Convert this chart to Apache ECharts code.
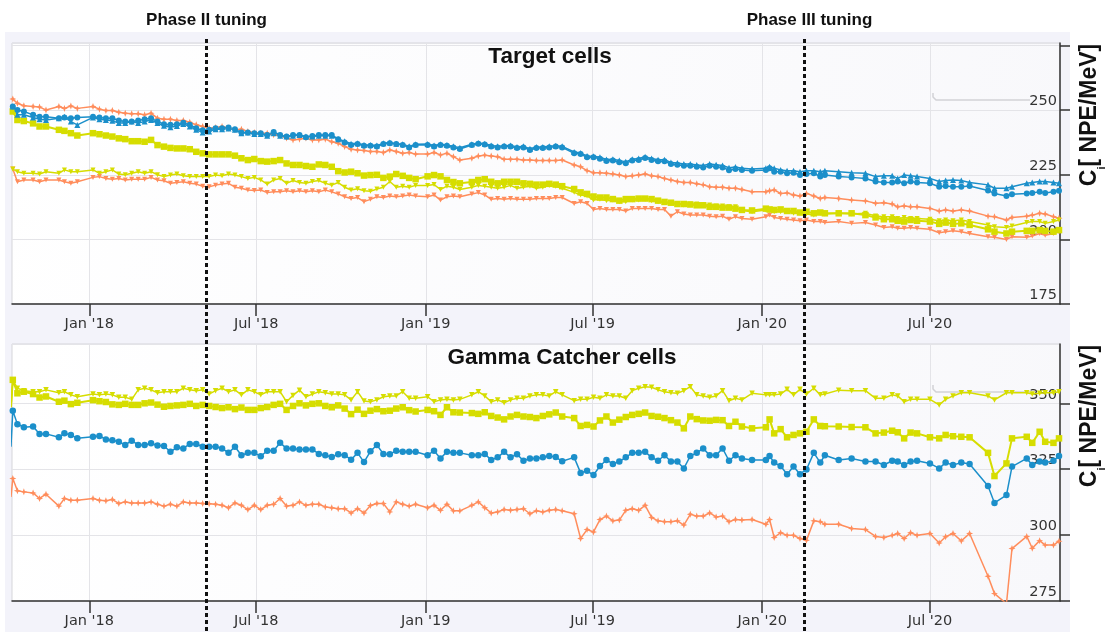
<!DOCTYPE html>
<html>
<head>
<meta charset="utf-8">
<script src="https://cdn.jsdelivr.net/npm/echarts@6/dist/echarts.min.js"></script>
<style>
html,body{margin:0;padding:0;background:#ffffff;}
#chart{width:1107px;height:632px;}
</style>
</head>
<body>
<div id="chart"></div>
<script>
// Sampling dates shared by both panels (first entry lies just before the visible window)
const dates = [
'2017-10-08','2017-10-10','2017-10-15','2017-10-22','2017-11-01','2017-11-08','2017-11-15','2017-11-29','2017-12-05','2017-12-12','2017-12-19',
'2018-01-05','2018-01-12','2018-01-19','2018-01-26','2018-02-02','2018-02-09','2018-02-16','2018-02-23','2018-03-02','2018-03-09','2018-03-16','2018-03-23','2018-03-30','2018-04-06','2018-04-13','2018-04-20','2018-04-27','2018-05-04','2018-05-11','2018-05-18','2018-05-25','2018-06-01','2018-06-08','2018-06-15','2018-06-22','2018-06-29','2018-07-06','2018-07-13','2018-07-20','2018-07-27','2018-08-03','2018-08-10','2018-08-17','2018-08-24','2018-08-31','2018-09-07','2018-09-14','2018-09-21','2018-09-28','2018-10-05','2018-10-12','2018-10-19','2018-10-26','2018-11-02','2018-11-09','2018-11-16','2018-11-23','2018-11-30','2018-12-07','2018-12-14','2018-12-21',
'2019-01-03','2019-01-10','2019-01-17','2019-01-24','2019-01-31','2019-02-07','2019-02-20','2019-02-27','2019-03-06','2019-03-13','2019-03-20','2019-03-27','2019-04-03','2019-04-10','2019-04-17','2019-04-24','2019-05-01','2019-05-08','2019-05-15','2019-05-22','2019-05-29','2019-06-11','2019-06-18','2019-06-25','2019-07-02','2019-07-09','2019-07-16','2019-07-23','2019-07-30','2019-08-06','2019-08-13','2019-08-20','2019-08-27','2019-09-03','2019-09-10','2019-09-17','2019-09-24','2019-10-01','2019-10-08','2019-10-15','2019-10-22','2019-10-29','2019-11-05','2019-11-12','2019-11-19','2019-11-26','2019-12-03','2019-12-10','2019-12-21',
'2020-01-05','2020-01-09','2020-01-14','2020-01-21','2020-01-28','2020-02-04','2020-02-11','2020-02-18','2020-02-26','2020-03-04','2020-03-09','2020-03-24','2020-04-07','2020-04-22','2020-05-03','2020-05-12','2020-05-21','2020-05-27','2020-06-03','2020-06-10','2020-06-17','2020-07-01','2020-07-11','2020-07-18','2020-07-26','2020-08-04','2020-08-13','2020-09-02','2020-09-09','2020-09-22','2020-09-28','2020-10-14','2020-10-20','2020-10-28','2020-11-03','2020-11-12','2020-11-18'
];

// Time-axis ticks and their labels
const tickDates = ['2018-01-01','2018-07-01','2019-01-01','2019-07-01','2020-01-01','2020-07-01'];
const tickLabels = ["Jan '18","Jul '18","Jan '19","Jul '19","Jan '20","Jul '20"];
const xRange = ['2017-10-09T03:00:00','2020-11-19T02:00:00'];

// Tuning campaigns
const phaseDates = ['2018-05-08','2020-02-15'];
const phaseLabels = ['Phase II tuning','Phase III tuning'];

// Panel titles and value ranges
const panelTitles = ['Target cells','Gamma Catcher cells'];
const targetRange = [175, 276];
const gammaRange = [275, 372.5];

// Target cells, C_i [NPE/MeV]
const targetOrangeA = [null,
254.3,252.7,251.7,251.4,251.2,250.1,251.4,250.7,251.6,250.7,251.4,250.4,249.9,249.9,249.2,248.8,248.6,248.6,248.2,248.8,246.9,246.5,246.5,246.0,246.0,245.3,244.4,243.7,243.0,243.3,243.7,243.0,242.4,242.6,241.8,241.4,241.1,241.1,240.5,240.1,239.2,238.5,238.8,239.2,238.5,238.5,238.8,237.8,237.2,235.9,234.9,234.6,234.4,234.0,
234.0,233.6,234.6,234.0,233.3,233.6,233.0,233.0,233.6,232.7,233.3,232.0,230.7,231.4,232.3,232.6,232.3,232.0,231.0,231.0,231.0,230.7,230.7,230.5,230.5,230.5,230.5,230.7,228.8,228.1,226.6,225.8,225.8,225.6,225.3,224.9,224.3,224.6,224.9,225.3,224.6,224.3,223.6,223.0,222.4,222.0,222.0,221.5,221.1,220.4,220.2,220.2,219.8,219.8,
219.3,218.4,218.4,218.8,219.1,217.8,218.0,217.2,216.8,217.8,216.8,215.8,216.2,215.8,215.2,214.9,214.0,214.2,213.7,212.6,212.9,212.6,212.6,212.0,211.0,211.4,211.0,211.4,211.0,209.0,208.8,207.5,208.5,209.0,209.4,210.1,209.8,208.8,208.2];

const targetBlueCircle = [null,
251.4,250.1,249.5,248.2,247.5,247.5,246.9,247.2,246.9,247.2,247.5,247.2,246.9,246.9,246.0,245.6,245.6,246.0,246.5,246.9,245.6,244.6,244.4,244.6,245.1,244.4,243.0,242.2,242.4,243.0,243.0,243.3,242.6,241.4,241.4,241.1,241.1,240.4,241.6,240.4,239.8,240.4,240.4,239.5,240.0,240.4,240.4,240.4,238.8,237.5,236.5,236.9,236.2,236.2,
235.9,236.9,237.2,236.9,236.5,235.6,236.5,236.5,235.9,236.5,236.2,235.6,235.0,236.5,237.0,236.7,235.9,235.6,235.9,235.9,235.4,235.6,234.6,235.4,235.4,235.6,235.9,235.6,233.3,233.0,231.8,231.8,231.2,230.3,230.5,229.9,229.5,230.5,230.7,231.5,230.7,230.2,230.2,229.2,228.9,228.5,228.5,228.1,227.8,228.5,228.1,227.8,226.8,227.2,
226.9,226.6,226.9,227.5,226.2,226.2,225.6,225.8,224.9,225.3,225.6,224.3,224.9,224.3,224.0,223.6,222.4,222.0,222.0,222.4,221.7,222.4,222.0,221.7,220.4,220.7,220.4,220.4,220.7,218.9,217.8,216.8,217.5,217.8,218.0,218.4,218.0,218.4,218.8];

const targetBlueTriangle = [null,
251.4,248.2,248.2,247.2,246.5,246.2,246.9,247.5,245.6,244.3,247.2,246.5,246.2,245.9,245.0,245.0,245.6,245.0,245.6,246.2,245.0,244.0,243.4,243.9,244.7,243.7,242.4,241.4,241.8,242.6,242.6,242.9,242.4,241.1,241.4,240.8,240.8,240.1,241.1,240.1,239.8,240.1,240.4,239.8,239.8,240.1,240.1,240.1,238.8,238.0,237.0,237.2,236.5,236.5,
236.3,237.2,237.5,237.0,236.8,236.0,236.8,236.9,236.3,236.8,236.5,236.0,235.5,236.8,237.3,237.0,236.3,236.0,236.2,236.3,235.8,236.0,235.1,235.8,235.8,236.0,236.2,236.0,233.8,233.4,232.3,232.2,231.8,230.9,231.0,230.5,230.0,231.0,231.3,232.0,231.3,230.8,230.8,229.8,229.6,229.2,229.2,228.8,228.6,229.2,228.9,228.6,227.7,228.0,
227.5,227.2,227.5,228.1,227.5,226.9,226.6,226.6,226.2,226.6,226.6,226.2,226.6,226.2,225.8,225.6,224.3,224.6,224.6,223.6,224.9,224.6,224.3,223.6,222.4,222.8,223.0,222.8,222.0,221.1,219.8,219.8,220.4,221.7,222.0,222.4,222.4,222.0,221.7];

const targetYellowSquare = [null,
249.5,246.2,245.8,244.9,243.7,243.7,242.4,242.0,241.1,240.2,241.1,240.7,240.2,239.8,239.1,238.8,238.0,238.0,237.8,238.5,236.5,235.9,235.4,235.2,235.2,234.9,233.9,233.3,232.9,232.9,232.9,232.9,232.4,231.4,230.7,231.1,230.3,230.1,230.3,230.7,229.4,228.8,228.8,228.4,228.1,229.0,228.8,228.1,226.4,225.9,226.2,225.6,224.7,224.9,
225.0,223.8,224.3,225.3,224.6,223.8,223.3,224.4,224.9,224.4,223.0,222.2,221.7,222.2,223.0,223.3,222.3,221.7,222.3,222.3,222.3,221.7,221.5,221.2,221.2,221.5,221.2,220.6,219.5,218.2,217.6,216.6,216.2,216.2,215.6,215.0,215.6,215.6,215.8,215.8,215.6,215.0,214.5,214.2,213.7,213.7,213.5,213.2,213.2,212.6,212.6,212.3,212.3,211.9,
211.4,211.2,211.9,211.6,211.4,211.6,211.0,211.0,210.4,210.7,210.1,210.4,210.1,210.1,210.1,209.4,208.5,207.8,207.8,207.2,206.9,207.5,207.2,206.9,206.0,206.5,206.0,206.2,205.6,203.9,203.0,202.3,203.0,203.3,203.3,203.6,203.3,203.0,203.6];

const targetYellowTriangle = [null,
227.2,226.2,225.6,225.6,225.3,226.2,225.6,226.9,226.2,226.2,226.9,225.6,226.2,226.9,225.3,225.0,225.6,226.2,225.6,226.2,225.0,224.3,224.9,225.3,224.6,224.3,224.3,224.3,224.3,224.9,224.6,225.3,224.9,224.3,223.6,224.0,223.0,221.4,223.0,223.6,221.7,222.8,222.0,221.7,222.4,222.8,221.7,221.0,222.0,220.2,219.1,219.6,218.8,218.6,
219.5,220.2,222.4,220.2,220.6,220.2,220.9,220.9,221.2,219.3,220.6,220.2,219.3,220.2,220.9,220.6,220.2,219.8,220.2,220.9,219.8,220.2,220.6,219.8,220.2,220.9,220.6,219.8,218.2,217.2,216.8,215.2,215.5,215.0,215.2,214.6,214.6,215.2,215.2,215.5,215.0,214.6,214.2,214.0,213.7,213.3,213.7,213.7,213.3,213.3,212.9,212.9,212.6,212.6,
211.2,210.7,211.4,211.2,210.7,210.7,211.2,210.1,210.1,209.8,209.4,210.1,209.8,210.1,209.8,210.1,209.1,208.8,208.8,208.1,208.5,208.1,208.1,207.8,207.2,207.5,207.2,207.5,206.9,205.6,204.9,204.6,205.2,206.5,206.9,206.9,206.2,206.9,207.5];

const targetOrangeB = [null,
227.2,222.3,223.0,223.0,222.3,223.0,223.0,222.3,221.7,222.3,224.0,224.3,223.6,223.3,223.6,223.0,223.3,223.3,223.3,224.0,223.0,222.7,221.7,222.0,222.3,221.7,221.4,220.6,220.4,221.0,221.4,221.7,220.2,219.8,219.1,218.9,219.1,218.1,218.4,218.4,218.8,218.4,218.8,218.4,218.8,218.4,219.1,218.4,217.6,216.5,215.8,216.2,214.6,215.5,
216.5,216.2,216.8,216.5,216.8,217.2,216.8,216.5,217.2,215.2,216.5,216.8,216.5,217.6,218.1,217.2,215.5,215.8,215.5,215.8,215.5,215.5,215.5,215.8,215.8,215.8,216.2,216.2,213.9,214.6,213.9,211.6,212.0,211.6,211.6,211.6,211.0,212.0,212.0,212.0,212.0,211.6,211.6,209.0,210.7,209.8,209.4,209.4,209.4,209.0,208.8,209.0,207.8,208.8,
208.1,207.8,208.8,209.4,208.5,208.1,207.8,207.5,207.2,207.5,206.9,206.9,206.5,206.9,206.2,206.5,205.6,204.6,204.9,204.3,204.3,204.6,204.3,203.9,202.6,203.0,203.3,203.0,202.3,201.0,200.8,200.0,201.0,200.8,201.3,202.3,201.6,202.3,203.0];

// Gamma Catcher cells, C_i [NPE/MeV]
const gammaYellowTriangle = [348.5,
358.9,355.7,354.8,354.4,354.4,355.1,354.0,354.4,353.2,352.5,353.5,353.2,353.5,353.2,352.3,352.3,351.5,355.1,355.7,355.1,354.0,354.4,354.4,354.4,355.7,355.1,354.8,355.1,353.5,354.8,355.7,354.4,355.1,353.2,355.1,354.4,353.2,354.4,354.4,354.4,350.6,353.0,355.0,352.5,353.5,354.4,354.0,353.5,353.5,353.2,351.3,354.4,350.9,350.6,
351.3,352.5,352.8,352.8,354.4,351.9,351.9,352.5,350.6,351.3,351.5,351.3,351.5,353.2,354.4,352.8,350.6,351.3,350.2,351.3,351.9,351.9,352.8,353.2,353.2,352.8,354.4,353.2,351.0,351.5,351.5,352.3,351.9,353.2,352.8,352.8,351.9,354.8,355.7,356.3,356.1,355.1,354.4,354.0,353.8,354.8,356.3,353.2,352.8,352.3,352.8,354.8,351.0,351.9,
351.3,353.8,353.2,353.2,353.2,353.5,355.3,353.2,355.3,353.5,355.7,353.2,353.5,355.0,354.8,354.8,351.9,351.9,353.2,352.8,350.6,351.5,351.5,351.5,349.4,351.5,352.8,354.0,354.0,352.8,351.3,354.0,354.0,354.0,353.5,353.8,354.0,354.0,354.4];

const gammaYellowSquare = [348.5,
358.9,353.8,354.4,353.5,352.2,352.6,350.6,351.0,349.7,350.2,351.2,350.8,350.5,349.6,349.4,349.8,349.4,349.4,350.0,350.3,349.5,348.7,349.0,349.2,349.4,349.8,349.0,349.4,349.0,348.6,348.2,348.5,347.8,348.4,347.5,347.5,348.2,348.6,349.4,349.8,347.5,349.0,350.0,349.2,349.8,350.0,349.0,348.5,349.2,348.0,345.9,347.6,346.0,347.2,
347.8,347.0,347.2,348.0,348.5,347.4,346.9,347.5,347.0,345.6,348.5,346.6,346.5,346.3,346.0,346.6,345.2,344.6,343.9,345.0,345.6,345.0,344.8,344.4,345.2,345.8,346.5,345.0,344.4,341.4,341.8,341.2,343.5,345.0,342.7,343.8,344.8,345.6,346.0,346.5,345.2,344.9,344.4,343.6,342.7,340.5,345.0,344.0,343.5,343.4,343.7,343.6,341.4,343.0,
341.2,340.5,340.9,343.9,338.6,340.2,337.1,338.0,338.6,339.2,343.9,341.4,341.3,341.2,341.0,340.9,338.6,338.9,339.6,339.0,336.7,338.9,338.6,337.1,336.7,338.0,337.5,337.3,337.1,331.2,322.4,327.2,336.7,337.3,335.0,339.2,335.4,335.0,336.7];

const gammaBlueCircle = [333.5,
347.2,342.1,340.9,341.2,338.4,338.4,337.1,338.6,338.0,336.7,337.3,337.6,336.3,336.0,335.4,334.2,335.8,334.2,334.2,334.8,334.0,333.8,331.6,333.3,332.9,334.6,334.6,333.5,333.5,333.5,332.9,331.2,333.5,330.3,331.2,331.2,329.9,332.0,332.0,335.0,332.9,332.9,332.5,332.5,332.5,330.8,330.3,329.6,330.7,330.3,328.6,331.2,327.7,331.8,
334.2,330.8,330.7,332.0,331.6,331.6,331.6,330.3,332.0,329.1,331.6,331.2,331.2,330.3,330.3,330.8,328.5,329.5,331.6,329.5,330.7,328.2,329.1,329.1,329.5,330.0,329.6,328.0,329.5,323.6,324.4,322.8,326.2,328.5,327.0,327.9,329.5,331.2,331.2,331.6,329.5,328.2,330.3,327.9,327.9,325.3,330.0,331.2,332.9,330.3,330.3,332.9,328.2,330.3,
329.1,328.5,328.5,330.0,327.5,326.2,323.1,326.0,323.1,324.9,331.2,327.5,330.3,328.5,329.1,327.9,327.9,326.6,328.2,327.9,326.6,327.9,328.2,327.2,325.3,327.5,326.6,327.5,327.0,318.6,312.2,315.2,326.0,329.1,326.6,327.9,327.5,328.2,330.0];

const gammaOrange = [314.5,
321.5,316.8,316.4,316.0,313.9,315.5,311.0,313.9,313.2,313.2,313.9,313.2,313.0,313.5,312.0,312.6,312.2,312.2,312.2,312.6,311.7,311.0,311.7,311.0,312.6,312.2,312.2,312.0,311.9,311.7,311.3,310.4,312.2,311.3,309.7,311.3,309.7,311.3,311.7,313.9,311.0,311.3,312.6,311.3,311.7,311.7,310.7,310.4,310.0,310.0,308.4,310.0,308.4,311.2,
312.0,312.0,308.8,312.6,311.7,311.0,311.7,310.4,311.3,309.4,311.7,309.2,309.2,311.3,312.6,310.4,308.4,308.8,309.7,309.4,309.7,310.0,308.1,309.2,308.8,309.4,309.7,309.2,308.1,298.7,302.1,301.2,305.9,307.2,305.4,305.7,309.4,310.0,309.4,311.3,306.7,305.4,305.1,305.1,305.4,303.8,307.9,307.2,307.2,308.4,306.9,307.2,305.1,305.9,
305.7,305.9,304.1,305.9,299.1,300.9,299.9,299.9,298.7,298.0,305.4,305.1,304.1,304.1,302.5,302.1,299.5,299.1,299.9,300.6,298.7,300.9,299.9,300.6,297.0,299.4,300.6,297.8,300.6,284.4,277.8,274.0,294.9,299.5,295.0,297.9,296.2,296.2,297.7];

const BLUE = '#1b8fca';
const ORANGE = '#ff8d5c';
const YELLOW = '#d6dd00';
const INK = '#333333';
const PANEL_BG = '#f3f3fa';
const STAR = 'path://M0,-4L1.1,-1.1L4,0L1.1,1.1L0,4L-1.1,1.1L-4,0L-1.1,-1.1Z';

// Dates are handled as UTC millisecond stamps on a numeric axis
const toTime = s => {
  const [d, t] = s.split('T');
  const [y, m, dd] = d.split('-').map(Number);
  const [hh, mm] = (t || '00:00').split(':').map(Number);
  return Date.UTC(y, m - 1, dd, hh, mm);
};
const tickTimes = tickDates.map(toTime);
const fmtX = v => {
  const i = tickTimes.findIndex(t => Math.abs(t - v) < 43200000);
  return i < 0 ? '' : tickLabels[i];
};
const toPairs = vals => vals.map((v, i) => [toTime(dates[i]), v]).filter(p => p[1] !== null);

function xAxisCfg(gi) {
  return {
    type: 'value', gridIndex: gi, min: toTime(xRange[0]), max: toTime(xRange[1]),
    axisLine: { show: true, onZero: false, lineStyle: { color: INK, width: 1.5 } },
    axisTick: { show: true, length: 12, customValues: tickTimes, lineStyle: { color: INK, width: 1.5 } },
    axisLabel: { customValues: tickTimes, formatter: fmtX, color: INK, fontFamily: 'DejaVu Sans', fontSize: 14.5, margin: 13 },
    splitLine: { show: true, lineStyle: { color: '#e4e4e8', width: 1 } }
  };
}
function yAxisCfg(gi, range) {
  return {
    type: 'value', gridIndex: gi, position: 'right', min: range[0], max: range[1], interval: 25,
    axisLine: { show: true, lineStyle: { color: INK, width: 1.5 } },
    axisTick: { show: true, inside: false, length: 10, lineStyle: { color: INK, width: 1.5 } },
    axisLabel: { inside: true, showMaxLabel: false, color: INK, fontFamily: 'DejaVu Sans', fontSize: 14.5,
      margin: 3, verticalAlign: 'bottom', padding: [0, 0, 1, 0],
      formatter: v => (range[1] - v < 5 ? '' : String(v)) },
    splitLine: { show: true, lineStyle: { color: '#e4e4e8', width: 1 } }
  };
}
function line(name, gi, vals, color, symbol, size, opts) {
  return Object.assign({
    name: name, type: 'line', xAxisIndex: gi, yAxisIndex: gi, data: toPairs(vals),
    symbol: symbol, symbolSize: size, showSymbol: true, showAllSymbol: true, clip: true,
    lineStyle: { color: color, width: 1.5 }, itemStyle: { color: color },
    emphasis: { disabled: true }, z: 3
  }, opts || {});
}

const gridBg = new echarts.graphic.LinearGradient(0, 0, 1, 1, [
  { offset: 0, color: '#ffffff' }, { offset: 1, color: '#f8f8fb' }
]);
const gridCommon = { left: 12, width: 1048, show: true, backgroundColor: gridBg, borderColor: '#d5d5da', borderWidth: 1 };

const chart = echarts.init(document.getElementById('chart'));
chart.setOption({
  animation: false,
  backgroundColor: '#ffffff',
  grid: [
    Object.assign({ top: 43, height: 261 }, gridCommon),
    Object.assign({ top: 344, height: 257 }, gridCommon)
  ],
  xAxis: [xAxisCfg(0), xAxisCfg(1)],
  yAxis: [yAxisCfg(0, targetRange), yAxisCfg(1, gammaRange)],
  series: [
    line('T orange A', 0, targetOrangeA, ORANGE, STAR, 7),
    line('T orange B', 0, targetOrangeB, ORANGE, 'triangle', 5, { symbolRotate: 180 }),
    line('T yellow tri', 0, targetYellowTriangle, YELLOW, 'triangle', 5, { symbolRotate: 180 }),
    line('T yellow sq', 0, targetYellowSquare, YELLOW, 'rect', 6.5, { lineStyle: { color: YELLOW, width: 2 } }),
    line('T blue tri', 0, targetBlueTriangle, BLUE, 'triangle', 6),
    line('T blue circle', 0, targetBlueCircle, BLUE, 'circle', 6),
    line('G orange', 1, gammaOrange, ORANGE, STAR, 7),
    line('G blue', 1, gammaBlueCircle, BLUE, 'circle', 6.5),
    line('G yellow sq', 1, gammaYellowSquare, YELLOW, 'rect', 6.5, { lineStyle: { color: YELLOW, width: 2 } }),
    line('G yellow tri', 1, gammaYellowTriangle, YELLOW, 'triangle', 5.5, { symbolRotate: 180 })
  ]
});

// Overlay: panel backdrop, titles, axis names, tuning markers
const axisName = '{c|C}{s|i}{c|[ NPE/MeV]}';
const axisNameRich = {
  c: { fontFamily: 'Liberation Sans', fontWeight: 'bold', fontSize: 23, lineHeight: 25, verticalAlign: 'top', fill: '#111' },
  s: { fontFamily: 'Liberation Sans', fontWeight: 'bold', fontSize: 11, lineHeight: 11, padding: [18, 0, 0, 0], verticalAlign: 'top', fill: '#111' }
};
const graphics = [
  { type: 'rect', z: -10, silent: true, shape: { x: 5, y: 32, width: 1065, height: 600 }, style: { fill: PANEL_BG } },
  { type: 'polyline', z: 1, silent: true, shape: { points: [[933, 93], [933, 97], [936, 100], [1030, 100]] },
    style: { stroke: '#d2d2d6', lineWidth: 1.5, fill: null } },
  { type: 'polyline', z: 1, silent: true, shape: { points: [[933, 385], [933, 389], [936, 392], [1030, 392]] },
    style: { stroke: '#d2d2d6', lineWidth: 1.5, fill: null } },
  { type: 'text', z: 10, x: 550, y: 57, style: { text: panelTitles[0], font: 'bold 22.5px "Liberation Sans", Arial, sans-serif', fill: '#111', textAlign: 'center', textVerticalAlign: 'middle' } },
  { type: 'text', z: 10, x: 562, y: 358, style: { text: panelTitles[1], font: 'bold 22.5px "Liberation Sans", Arial, sans-serif', fill: '#111', textAlign: 'center', textVerticalAlign: 'middle' } },
  { type: 'text', z: 10, x: 1091, y: 115, rotation: Math.PI / 2, style: { text: axisName, rich: axisNameRich, textAlign: 'center', textVerticalAlign: 'middle' } },
  { type: 'text', z: 10, x: 1091, y: 416, rotation: Math.PI / 2, style: { text: axisName, rich: axisNameRich, textAlign: 'center', textVerticalAlign: 'middle' } }
];
phaseDates.forEach((d, i) => {
  const px = Math.round(chart.convertToPixel({ xAxisIndex: 0 }, toTime(d))) + 0.5;
  graphics.push({ type: 'line', z: 20, silent: true, shape: { x1: px, y1: 39, x2: px, y2: 632 },
    style: { stroke: '#111', lineWidth: 3, lineDash: [4, 3] } });
  graphics.push({ type: 'text', z: 20, x: px + (i === 1 ? 5 : 0), y: 20,
    style: { text: phaseLabels[i], font: 'bold 17px "Liberation Sans", Arial, sans-serif', fill: '#111', textAlign: 'center', textVerticalAlign: 'middle' } });
});
chart.setOption({ graphic: graphics });
</script>
</body>
</html>
